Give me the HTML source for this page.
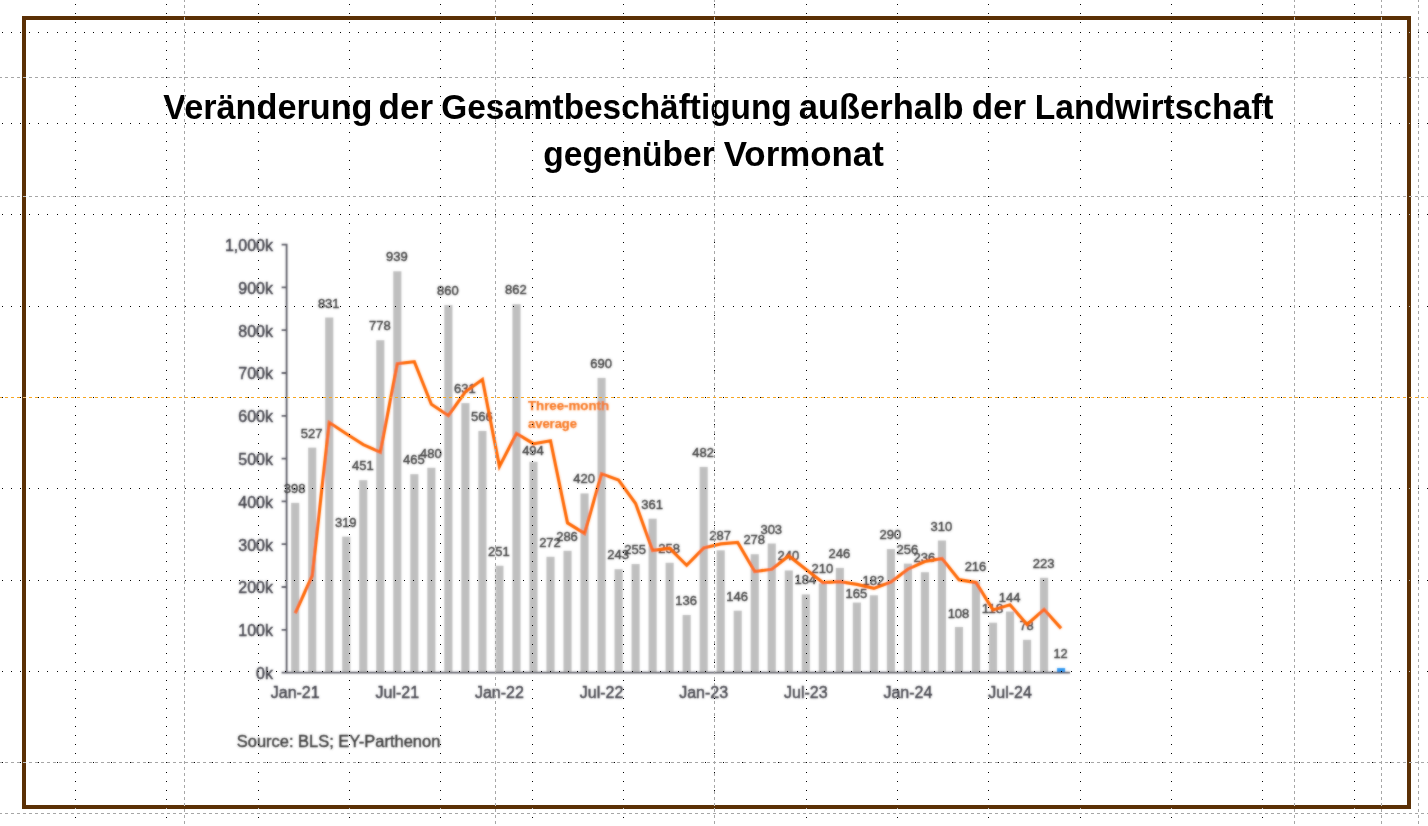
<!DOCTYPE html>
<html lang="de">
<head>
<meta charset="utf-8">
<title>Veränderung der Gesamtbeschäftigung außerhalb der Landwirtschaft gegenüber Vormonat</title>
<style>
html,body{margin:0;padding:0;background:#fff;}
body{width:1428px;height:826px;overflow:hidden;position:relative;font-family:"Liberation Sans",sans-serif;}
svg{position:absolute;left:0;top:0;display:block;}
.title{font-family:"Liberation Sans",sans-serif;font-weight:bold;font-size:35.3px;fill:#000;}
.ax{font-family:"Liberation Sans",sans-serif;font-size:16px;fill:#404048;stroke:#404048;stroke-width:0.45px;}
.dl{font-family:"Liberation Sans",sans-serif;font-size:13.5px;fill:#3c3c3c;stroke:#3c3c3c;stroke-width:0.45px;text-anchor:middle;}
.src{font-family:"Liberation Sans",sans-serif;font-size:16.5px;fill:#363636;stroke:#363636;stroke-width:0.4px;}
.tm{font-family:"Liberation Sans",sans-serif;font-weight:bold;font-size:13px;fill:#f8741c;stroke:#f8741c;stroke-width:0.25px;}
</style>
</head>
<body>
<svg width="1428" height="826" viewBox="0 0 1428 826">
<defs>
<filter id="soft" x="-2%" y="-2%" width="104%" height="104%"><feGaussianBlur stdDeviation="0.85" result="b"/><feComposite in="SourceGraphic" in2="b" operator="arithmetic" k1="0" k2="0.4" k3="0.6" k4="0"/></filter>
</defs>
<rect width="1428" height="826" fill="#fff"/>
<!-- slide frame -->
<rect x="24" y="18" width="1385" height="789" fill="none" stroke="#5b3005" stroke-width="4"/>
<!-- chart picture -->
<g filter="url(#soft)">
<g><rect x="291.15" y="502.86" width="8.1" height="169.74" fill="#bfbfbf"/><rect x="308.17" y="447.64" width="8.1" height="224.96" fill="#bfbfbf"/><rect x="325.19" y="317.53" width="8.1" height="355.07" fill="#bfbfbf"/><rect x="342.21" y="536.67" width="8.1" height="135.93" fill="#bfbfbf"/><rect x="359.23" y="480.17" width="8.1" height="192.43" fill="#bfbfbf"/><rect x="376.25" y="340.22" width="8.1" height="332.38" fill="#bfbfbf"/><rect x="393.27" y="271.31" width="8.1" height="401.29" fill="#bfbfbf"/><rect x="410.29" y="474.18" width="8.1" height="198.42" fill="#bfbfbf"/><rect x="427.31" y="467.76" width="8.1" height="204.84" fill="#bfbfbf"/><rect x="444.33" y="305.12" width="8.1" height="367.48" fill="#bfbfbf"/><rect x="461.35" y="403.13" width="8.1" height="269.47" fill="#bfbfbf"/><rect x="478.37" y="430.95" width="8.1" height="241.65" fill="#bfbfbf"/><rect x="495.39" y="565.77" width="8.1" height="106.83" fill="#bfbfbf"/><rect x="512.41" y="304.26" width="8.1" height="368.34" fill="#bfbfbf"/><rect x="529.43" y="461.77" width="8.1" height="210.83" fill="#bfbfbf"/><rect x="546.45" y="556.78" width="8.1" height="115.82" fill="#bfbfbf"/><rect x="563.47" y="550.79" width="8.1" height="121.81" fill="#bfbfbf"/><rect x="580.49" y="493.44" width="8.1" height="179.16" fill="#bfbfbf"/><rect x="597.51" y="377.88" width="8.1" height="294.72" fill="#bfbfbf"/><rect x="614.53" y="569.20" width="8.1" height="103.40" fill="#bfbfbf"/><rect x="631.55" y="564.06" width="8.1" height="108.54" fill="#bfbfbf"/><rect x="648.57" y="518.69" width="8.1" height="153.91" fill="#bfbfbf"/><rect x="665.59" y="562.78" width="8.1" height="109.82" fill="#bfbfbf"/><rect x="682.61" y="614.99" width="8.1" height="57.61" fill="#bfbfbf"/><rect x="699.63" y="466.90" width="8.1" height="205.70" fill="#bfbfbf"/><rect x="716.65" y="550.36" width="8.1" height="122.24" fill="#bfbfbf"/><rect x="733.67" y="610.71" width="8.1" height="61.89" fill="#bfbfbf"/><rect x="750.69" y="554.22" width="8.1" height="118.38" fill="#bfbfbf"/><rect x="767.71" y="543.52" width="8.1" height="129.08" fill="#bfbfbf"/><rect x="784.73" y="570.48" width="8.1" height="102.12" fill="#bfbfbf"/><rect x="801.75" y="594.45" width="8.1" height="78.15" fill="#bfbfbf"/><rect x="818.77" y="583.32" width="8.1" height="89.28" fill="#bfbfbf"/><rect x="835.79" y="567.91" width="8.1" height="104.69" fill="#bfbfbf"/><rect x="852.81" y="602.58" width="8.1" height="70.02" fill="#bfbfbf"/><rect x="869.83" y="595.30" width="8.1" height="77.30" fill="#bfbfbf"/><rect x="886.85" y="549.08" width="8.1" height="123.52" fill="#bfbfbf"/><rect x="903.87" y="563.63" width="8.1" height="108.97" fill="#bfbfbf"/><rect x="920.89" y="572.19" width="8.1" height="100.41" fill="#bfbfbf"/><rect x="937.91" y="540.52" width="8.1" height="132.08" fill="#bfbfbf"/><rect x="954.93" y="626.98" width="8.1" height="45.62" fill="#bfbfbf"/><rect x="971.95" y="580.75" width="8.1" height="91.85" fill="#bfbfbf"/><rect x="988.97" y="622.70" width="8.1" height="49.90" fill="#bfbfbf"/><rect x="1005.99" y="611.57" width="8.1" height="61.03" fill="#bfbfbf"/><rect x="1023.01" y="639.82" width="8.1" height="32.78" fill="#bfbfbf"/><rect x="1040.03" y="577.76" width="8.1" height="94.84" fill="#bfbfbf"/><rect x="1057.05" y="668.06" width="8.1" height="4.54" fill="#2f96f0"/></g>
<path d="M286.6 243.8V673.5M281.6 672.6H1070M281.6 672.60H286.6M281.6 629.80H286.6M281.6 587.00H286.6M281.6 544.20H286.6M281.6 501.40H286.6M281.6 458.60H286.6M281.6 415.80H286.6M281.6 373.00H286.6M281.6 330.20H286.6M281.6 287.40H286.6M281.6 244.60H286.6" fill="none" stroke="#5a5a64" stroke-width="1.8"/>
<g class="ax" text-anchor="end"><text x="273" y="679.00">0k</text><text x="273" y="636.20">100k</text><text x="273" y="593.40">200k</text><text x="273" y="550.60">300k</text><text x="273" y="507.80">400k</text><text x="273" y="465.00">500k</text><text x="273" y="422.20">600k</text><text x="273" y="379.40">700k</text><text x="273" y="336.60">800k</text><text x="273" y="293.80">900k</text><text x="273" y="251.00">1,000k</text></g>
<g class="ax" text-anchor="middle"><text x="295.20" y="698.1">Jan-21</text><text x="397.32" y="698.1">Jul-21</text><text x="499.44" y="698.1">Jan-22</text><text x="601.56" y="698.1">Jul-22</text><text x="703.68" y="698.1">Jan-23</text><text x="805.80" y="698.1">Jul-23</text><text x="907.92" y="698.1">Jan-24</text><text x="1010.04" y="698.1">Jul-24</text></g>
<g class="dl"><text x="294.70" y="492.86" textLength="21.7" lengthAdjust="spacingAndGlyphs">398</text><text x="311.72" y="437.64" textLength="21.7" lengthAdjust="spacingAndGlyphs">527</text><text x="328.74" y="307.53" textLength="21.7" lengthAdjust="spacingAndGlyphs">831</text><text x="345.76" y="526.67" textLength="21.7" lengthAdjust="spacingAndGlyphs">319</text><text x="362.78" y="470.17" textLength="21.7" lengthAdjust="spacingAndGlyphs">451</text><text x="379.80" y="330.22" textLength="21.7" lengthAdjust="spacingAndGlyphs">778</text><text x="396.82" y="261.31" textLength="21.7" lengthAdjust="spacingAndGlyphs">939</text><text x="413.84" y="464.18" textLength="21.7" lengthAdjust="spacingAndGlyphs">465</text><text x="430.86" y="457.76" textLength="21.7" lengthAdjust="spacingAndGlyphs">480</text><text x="447.88" y="295.12" textLength="21.7" lengthAdjust="spacingAndGlyphs">860</text><text x="464.90" y="393.13" textLength="21.7" lengthAdjust="spacingAndGlyphs">631</text><text x="481.92" y="420.95" textLength="21.7" lengthAdjust="spacingAndGlyphs">566</text><text x="498.94" y="555.77" textLength="21.7" lengthAdjust="spacingAndGlyphs">251</text><text x="515.96" y="294.26" textLength="21.7" lengthAdjust="spacingAndGlyphs">862</text><text x="532.98" y="455.27" textLength="21.7" lengthAdjust="spacingAndGlyphs">494</text><text x="550.00" y="546.78" textLength="21.7" lengthAdjust="spacingAndGlyphs">272</text><text x="567.02" y="540.79" textLength="21.7" lengthAdjust="spacingAndGlyphs">286</text><text x="584.04" y="483.44" textLength="21.7" lengthAdjust="spacingAndGlyphs">420</text><text x="601.06" y="367.88" textLength="21.7" lengthAdjust="spacingAndGlyphs">690</text><text x="618.08" y="559.20" textLength="21.7" lengthAdjust="spacingAndGlyphs">243</text><text x="635.10" y="554.06" textLength="21.7" lengthAdjust="spacingAndGlyphs">255</text><text x="652.12" y="508.69" textLength="21.7" lengthAdjust="spacingAndGlyphs">361</text><text x="669.14" y="552.78" textLength="21.7" lengthAdjust="spacingAndGlyphs">258</text><text x="686.16" y="604.99" textLength="21.7" lengthAdjust="spacingAndGlyphs">136</text><text x="703.18" y="456.90" textLength="21.7" lengthAdjust="spacingAndGlyphs">482</text><text x="720.20" y="540.36" textLength="21.7" lengthAdjust="spacingAndGlyphs">287</text><text x="737.22" y="600.71" textLength="21.7" lengthAdjust="spacingAndGlyphs">146</text><text x="754.24" y="544.22" textLength="21.7" lengthAdjust="spacingAndGlyphs">278</text><text x="771.26" y="533.52" textLength="21.7" lengthAdjust="spacingAndGlyphs">303</text><text x="788.28" y="560.48" textLength="21.7" lengthAdjust="spacingAndGlyphs">240</text><text x="805.30" y="584.45" textLength="21.7" lengthAdjust="spacingAndGlyphs">184</text><text x="822.32" y="573.32" textLength="21.7" lengthAdjust="spacingAndGlyphs">210</text><text x="839.34" y="557.91" textLength="21.7" lengthAdjust="spacingAndGlyphs">246</text><text x="856.36" y="598.08" textLength="21.7" lengthAdjust="spacingAndGlyphs">165</text><text x="873.38" y="585.30" textLength="21.7" lengthAdjust="spacingAndGlyphs">182</text><text x="890.40" y="539.08" textLength="21.7" lengthAdjust="spacingAndGlyphs">290</text><text x="907.42" y="553.63" textLength="21.7" lengthAdjust="spacingAndGlyphs">256</text><text x="924.44" y="562.19" textLength="21.7" lengthAdjust="spacingAndGlyphs">236</text><text x="941.46" y="530.52" textLength="21.7" lengthAdjust="spacingAndGlyphs">310</text><text x="958.48" y="618.08" textLength="21.7" lengthAdjust="spacingAndGlyphs">108</text><text x="975.50" y="570.75" textLength="21.7" lengthAdjust="spacingAndGlyphs">216</text><text x="992.52" y="612.70" textLength="21.7" lengthAdjust="spacingAndGlyphs">118</text><text x="1009.54" y="601.57" textLength="21.7" lengthAdjust="spacingAndGlyphs">144</text><text x="1026.56" y="629.82" textLength="14.3" lengthAdjust="spacingAndGlyphs">78</text><text x="1043.58" y="567.76" textLength="21.7" lengthAdjust="spacingAndGlyphs">223</text><text x="1060.60" y="658.06" textLength="14.3" lengthAdjust="spacingAndGlyphs">12</text></g>
<polyline points="295.20,613.22 312.22,575.70 329.24,422.48 346.26,433.75 363.28,444.59 380.30,452.15 397.32,363.70 414.34,361.70 431.36,404.22 448.38,415.49 465.40,391.80 482.42,379.53 499.44,466.42 516.46,433.46 533.48,443.73 550.50,440.74 567.52,522.91 584.54,533.47 601.56,473.84 618.58,479.97 635.60,503.51 652.62,550.45 669.64,548.31 686.66,565.29 703.68,548.02 720.70,543.89 737.72,542.46 754.74,571.56 771.76,569.28 788.78,555.87 805.80,569.28 822.82,582.55 839.84,581.69 856.86,584.40 873.88,588.40 890.90,582.12 907.92,569.14 924.94,561.43 941.96,558.58 958.98,579.70 976.00,582.55 993.02,609.94 1010.04,604.81 1027.06,624.49 1044.08,609.51 1061.10,628.35" fill="none" stroke="#ff6600" stroke-width="3.2" stroke-linejoin="miter" stroke-linecap="butt"/>
<text class="tm" x="528" y="409.8" textLength="81" lengthAdjust="spacingAndGlyphs">Three-month</text>
<text class="tm" x="528" y="428.2" textLength="49" lengthAdjust="spacingAndGlyphs">average</text>
<text class="src" x="236.8" y="746.7" textLength="203.5" lengthAdjust="spacingAndGlyphs">Source: BLS; EY-Parthenon</text>
</g>
<!-- title -->
<text class="title" y="118.9"><tspan x="163.26" textLength="209.28" lengthAdjust="spacingAndGlyphs">Veränderung</tspan> <tspan x="378.51" textLength="54.52" lengthAdjust="spacingAndGlyphs">der</tspan> <tspan x="441.28" textLength="350.42" lengthAdjust="spacingAndGlyphs">Gesamtbeschäftigung</tspan> <tspan x="798.72" textLength="164.88" lengthAdjust="spacingAndGlyphs">außerhalb</tspan> <tspan x="971.71" textLength="54.52" lengthAdjust="spacingAndGlyphs">der</tspan> <tspan x="1034.76" textLength="238.8" lengthAdjust="spacingAndGlyphs">Landwirtschaft</tspan></text>
<text class="title" y="165.9"><tspan x="543.37" textLength="171.44" lengthAdjust="spacingAndGlyphs">gegenüber</tspan> <tspan x="723.65" textLength="160.22" lengthAdjust="spacingAndGlyphs">Vormonat</tspan></text>
<!-- grid dots -->
<path d="M2 32.5h1m8 0h1m8 0h1m8 0h1m8 0h1m8 0h1m9 0h1m8 0h1m8 0h1m8 0h1m8 0h1m8 0h1m8 0h1m9 0h1m8 0h1m8 0h1m8 0h1m8 0h1m8 0h1m8 0h1m9 0h1m8 0h1m8 0h1m8 0h1m8 0h1m8 0h1m8 0h1m8 0h1m9 0h1m8 0h1m8 0h1m8 0h1m8 0h1m8 0h1m8 0h1m9 0h1m8 0h1m8 0h1m8 0h1m8 0h1m8 0h1m8 0h1m8 0h1m9 0h1m8 0h1m8 0h1m8 0h1m8 0h1m8 0h1m8 0h1m9 0h1m8 0h1m8 0h1m8 0h1m8 0h1m8 0h1m8 0h1m9 0h1m8 0h1m8 0h1m8 0h1m8 0h1m8 0h1m8 0h1m8 0h1m9 0h1m8 0h1m8 0h1m8 0h1m8 0h1m8 0h1m8 0h1m9 0h1m8 0h1m8 0h1m8 0h1m8 0h1m8 0h1m8 0h1m8 0h1m9 0h1m8 0h1m8 0h1m8 0h1m8 0h1m8 0h1m8 0h1m9 0h1m8 0h1m8 0h1m8 0h1m8 0h1m8 0h1m8 0h1m9 0h1m8 0h1m8 0h1m8 0h1m8 0h1m8 0h1m8 0h1m8 0h1m9 0h1m8 0h1m8 0h1m8 0h1m8 0h1m8 0h1m8 0h1m9 0h1m8 0h1m8 0h1m8 0h1m8 0h1m8 0h1m8 0h1m8 0h1m9 0h1m8 0h1m8 0h1m8 0h1m8 0h1m8 0h1m8 0h1m9 0h1m8 0h1m8 0h1m8 0h1m8 0h1m8 0h1m8 0h1m8 0h1m9 0h1m8 0h1m8 0h1m8 0h1m8 0h1m8 0h1m8 0h1m9 0h1m8 0h1m8 0h1m8 0h1m8 0h1m8 0h1m8 0h1m9 0h1m8 0h1m8 0h1m8 0h1m8 0h1m8 0h1m8 0h1m8 0h1m9 0h1m8 0h1m8 0h1M2 123.5h1m8 0h1m8 0h1m8 0h1m8 0h1m8 0h1m9 0h1m8 0h1m8 0h1m8 0h1m8 0h1m8 0h1m8 0h1m9 0h1m8 0h1m8 0h1m8 0h1m8 0h1m8 0h1m8 0h1m9 0h1m8 0h1m8 0h1m8 0h1m8 0h1m8 0h1m8 0h1m8 0h1m9 0h1m8 0h1m8 0h1m8 0h1m8 0h1m8 0h1m8 0h1m9 0h1m8 0h1m8 0h1m8 0h1m8 0h1m8 0h1m8 0h1m8 0h1m9 0h1m8 0h1m8 0h1m8 0h1m8 0h1m8 0h1m8 0h1m9 0h1m8 0h1m8 0h1m8 0h1m8 0h1m8 0h1m8 0h1m9 0h1m8 0h1m8 0h1m8 0h1m8 0h1m8 0h1m8 0h1m8 0h1m9 0h1m8 0h1m8 0h1m8 0h1m8 0h1m8 0h1m8 0h1m9 0h1m8 0h1m8 0h1m8 0h1m8 0h1m8 0h1m8 0h1m8 0h1m9 0h1m8 0h1m8 0h1m8 0h1m8 0h1m8 0h1m8 0h1m9 0h1m8 0h1m8 0h1m8 0h1m8 0h1m8 0h1m8 0h1m9 0h1m8 0h1m8 0h1m8 0h1m8 0h1m8 0h1m8 0h1m8 0h1m9 0h1m8 0h1m8 0h1m8 0h1m8 0h1m8 0h1m8 0h1m9 0h1m8 0h1m8 0h1m8 0h1m8 0h1m8 0h1m8 0h1m8 0h1m9 0h1m8 0h1m8 0h1m8 0h1m8 0h1m8 0h1m8 0h1m9 0h1m8 0h1m8 0h1m8 0h1m8 0h1m8 0h1m8 0h1m8 0h1m9 0h1m8 0h1m8 0h1m8 0h1m8 0h1m8 0h1m8 0h1m9 0h1m8 0h1m8 0h1m8 0h1m8 0h1m8 0h1m8 0h1m9 0h1m8 0h1m8 0h1m8 0h1m8 0h1m8 0h1m8 0h1m8 0h1m9 0h1m8 0h1m8 0h1M2 214.5h1m8 0h1m8 0h1m8 0h1m8 0h1m8 0h1m9 0h1m8 0h1m8 0h1m8 0h1m8 0h1m8 0h1m8 0h1m9 0h1m8 0h1m8 0h1m8 0h1m8 0h1m8 0h1m8 0h1m9 0h1m8 0h1m8 0h1m8 0h1m8 0h1m8 0h1m8 0h1m8 0h1m9 0h1m8 0h1m8 0h1m8 0h1m8 0h1m8 0h1m8 0h1m9 0h1m8 0h1m8 0h1m8 0h1m8 0h1m8 0h1m8 0h1m8 0h1m9 0h1m8 0h1m8 0h1m8 0h1m8 0h1m8 0h1m8 0h1m9 0h1m8 0h1m8 0h1m8 0h1m8 0h1m8 0h1m8 0h1m9 0h1m8 0h1m8 0h1m8 0h1m8 0h1m8 0h1m8 0h1m8 0h1m9 0h1m8 0h1m8 0h1m8 0h1m8 0h1m8 0h1m8 0h1m9 0h1m8 0h1m8 0h1m8 0h1m8 0h1m8 0h1m8 0h1m8 0h1m9 0h1m8 0h1m8 0h1m8 0h1m8 0h1m8 0h1m8 0h1m9 0h1m8 0h1m8 0h1m8 0h1m8 0h1m8 0h1m8 0h1m9 0h1m8 0h1m8 0h1m8 0h1m8 0h1m8 0h1m8 0h1m8 0h1m9 0h1m8 0h1m8 0h1m8 0h1m8 0h1m8 0h1m8 0h1m9 0h1m8 0h1m8 0h1m8 0h1m8 0h1m8 0h1m8 0h1m8 0h1m9 0h1m8 0h1m8 0h1m8 0h1m8 0h1m8 0h1m8 0h1m9 0h1m8 0h1m8 0h1m8 0h1m8 0h1m8 0h1m8 0h1m8 0h1m9 0h1m8 0h1m8 0h1m8 0h1m8 0h1m8 0h1m8 0h1m9 0h1m8 0h1m8 0h1m8 0h1m8 0h1m8 0h1m8 0h1m9 0h1m8 0h1m8 0h1m8 0h1m8 0h1m8 0h1m8 0h1m8 0h1m9 0h1m8 0h1m8 0h1M2 306.5h1m8 0h1m8 0h1m8 0h1m8 0h1m8 0h1m9 0h1m8 0h1m8 0h1m8 0h1m8 0h1m8 0h1m8 0h1m9 0h1m8 0h1m8 0h1m8 0h1m8 0h1m8 0h1m8 0h1m9 0h1m8 0h1m8 0h1m8 0h1m8 0h1m8 0h1m8 0h1m8 0h1m9 0h1m8 0h1m8 0h1m8 0h1m8 0h1m8 0h1m8 0h1m9 0h1m8 0h1m8 0h1m8 0h1m8 0h1m8 0h1m8 0h1m8 0h1m9 0h1m8 0h1m8 0h1m8 0h1m8 0h1m8 0h1m8 0h1m9 0h1m8 0h1m8 0h1m8 0h1m8 0h1m8 0h1m8 0h1m9 0h1m8 0h1m8 0h1m8 0h1m8 0h1m8 0h1m8 0h1m8 0h1m9 0h1m8 0h1m8 0h1m8 0h1m8 0h1m8 0h1m8 0h1m9 0h1m8 0h1m8 0h1m8 0h1m8 0h1m8 0h1m8 0h1m8 0h1m9 0h1m8 0h1m8 0h1m8 0h1m8 0h1m8 0h1m8 0h1m9 0h1m8 0h1m8 0h1m8 0h1m8 0h1m8 0h1m8 0h1m9 0h1m8 0h1m8 0h1m8 0h1m8 0h1m8 0h1m8 0h1m8 0h1m9 0h1m8 0h1m8 0h1m8 0h1m8 0h1m8 0h1m8 0h1m9 0h1m8 0h1m8 0h1m8 0h1m8 0h1m8 0h1m8 0h1m8 0h1m9 0h1m8 0h1m8 0h1m8 0h1m8 0h1m8 0h1m8 0h1m9 0h1m8 0h1m8 0h1m8 0h1m8 0h1m8 0h1m8 0h1m8 0h1m9 0h1m8 0h1m8 0h1m8 0h1m8 0h1m8 0h1m8 0h1m9 0h1m8 0h1m8 0h1m8 0h1m8 0h1m8 0h1m8 0h1m9 0h1m8 0h1m8 0h1m8 0h1m8 0h1m8 0h1m8 0h1m8 0h1m9 0h1m8 0h1m8 0h1M2 397.5h1m8 0h1m8 0h1m8 0h1m8 0h1m8 0h1m9 0h1m8 0h1m8 0h1m8 0h1m8 0h1m8 0h1m8 0h1m9 0h1m8 0h1m8 0h1m8 0h1m8 0h1m8 0h1m8 0h1m9 0h1m8 0h1m8 0h1m8 0h1m8 0h1m8 0h1m8 0h1m8 0h1m9 0h1m8 0h1m8 0h1m8 0h1m8 0h1m8 0h1m8 0h1m9 0h1m8 0h1m8 0h1m8 0h1m8 0h1m8 0h1m8 0h1m8 0h1m9 0h1m8 0h1m8 0h1m8 0h1m8 0h1m8 0h1m8 0h1m9 0h1m8 0h1m8 0h1m8 0h1m8 0h1m8 0h1m8 0h1m9 0h1m8 0h1m8 0h1m8 0h1m8 0h1m8 0h1m8 0h1m8 0h1m9 0h1m8 0h1m8 0h1m8 0h1m8 0h1m8 0h1m8 0h1m9 0h1m8 0h1m8 0h1m8 0h1m8 0h1m8 0h1m8 0h1m8 0h1m9 0h1m8 0h1m8 0h1m8 0h1m8 0h1m8 0h1m8 0h1m9 0h1m8 0h1m8 0h1m8 0h1m8 0h1m8 0h1m8 0h1m9 0h1m8 0h1m8 0h1m8 0h1m8 0h1m8 0h1m8 0h1m8 0h1m9 0h1m8 0h1m8 0h1m8 0h1m8 0h1m8 0h1m8 0h1m9 0h1m8 0h1m8 0h1m8 0h1m8 0h1m8 0h1m8 0h1m8 0h1m9 0h1m8 0h1m8 0h1m8 0h1m8 0h1m8 0h1m8 0h1m9 0h1m8 0h1m8 0h1m8 0h1m8 0h1m8 0h1m8 0h1m8 0h1m9 0h1m8 0h1m8 0h1m8 0h1m8 0h1m8 0h1m8 0h1m9 0h1m8 0h1m8 0h1m8 0h1m8 0h1m8 0h1m8 0h1m9 0h1m8 0h1m8 0h1m8 0h1m8 0h1m8 0h1m8 0h1m8 0h1m9 0h1m8 0h1m8 0h1M2 488.5h1m8 0h1m8 0h1m8 0h1m8 0h1m8 0h1m9 0h1m8 0h1m8 0h1m8 0h1m8 0h1m8 0h1m8 0h1m9 0h1m8 0h1m8 0h1m8 0h1m8 0h1m8 0h1m8 0h1m9 0h1m8 0h1m8 0h1m8 0h1m8 0h1m8 0h1m8 0h1m8 0h1m9 0h1m8 0h1m8 0h1m8 0h1m8 0h1m8 0h1m8 0h1m9 0h1m8 0h1m8 0h1m8 0h1m8 0h1m8 0h1m8 0h1m8 0h1m9 0h1m8 0h1m8 0h1m8 0h1m8 0h1m8 0h1m8 0h1m9 0h1m8 0h1m8 0h1m8 0h1m8 0h1m8 0h1m8 0h1m9 0h1m8 0h1m8 0h1m8 0h1m8 0h1m8 0h1m8 0h1m8 0h1m9 0h1m8 0h1m8 0h1m8 0h1m8 0h1m8 0h1m8 0h1m9 0h1m8 0h1m8 0h1m8 0h1m8 0h1m8 0h1m8 0h1m8 0h1m9 0h1m8 0h1m8 0h1m8 0h1m8 0h1m8 0h1m8 0h1m9 0h1m8 0h1m8 0h1m8 0h1m8 0h1m8 0h1m8 0h1m9 0h1m8 0h1m8 0h1m8 0h1m8 0h1m8 0h1m8 0h1m8 0h1m9 0h1m8 0h1m8 0h1m8 0h1m8 0h1m8 0h1m8 0h1m9 0h1m8 0h1m8 0h1m8 0h1m8 0h1m8 0h1m8 0h1m8 0h1m9 0h1m8 0h1m8 0h1m8 0h1m8 0h1m8 0h1m8 0h1m9 0h1m8 0h1m8 0h1m8 0h1m8 0h1m8 0h1m8 0h1m8 0h1m9 0h1m8 0h1m8 0h1m8 0h1m8 0h1m8 0h1m8 0h1m9 0h1m8 0h1m8 0h1m8 0h1m8 0h1m8 0h1m8 0h1m9 0h1m8 0h1m8 0h1m8 0h1m8 0h1m8 0h1m8 0h1m8 0h1m9 0h1m8 0h1m8 0h1M2 580.5h1m8 0h1m8 0h1m8 0h1m8 0h1m8 0h1m9 0h1m8 0h1m8 0h1m8 0h1m8 0h1m8 0h1m8 0h1m9 0h1m8 0h1m8 0h1m8 0h1m8 0h1m8 0h1m8 0h1m9 0h1m8 0h1m8 0h1m8 0h1m8 0h1m8 0h1m8 0h1m8 0h1m9 0h1m8 0h1m8 0h1m8 0h1m8 0h1m8 0h1m8 0h1m9 0h1m8 0h1m8 0h1m8 0h1m8 0h1m8 0h1m8 0h1m8 0h1m9 0h1m8 0h1m8 0h1m8 0h1m8 0h1m8 0h1m8 0h1m9 0h1m8 0h1m8 0h1m8 0h1m8 0h1m8 0h1m8 0h1m9 0h1m8 0h1m8 0h1m8 0h1m8 0h1m8 0h1m8 0h1m8 0h1m9 0h1m8 0h1m8 0h1m8 0h1m8 0h1m8 0h1m8 0h1m9 0h1m8 0h1m8 0h1m8 0h1m8 0h1m8 0h1m8 0h1m8 0h1m9 0h1m8 0h1m8 0h1m8 0h1m8 0h1m8 0h1m8 0h1m9 0h1m8 0h1m8 0h1m8 0h1m8 0h1m8 0h1m8 0h1m9 0h1m8 0h1m8 0h1m8 0h1m8 0h1m8 0h1m8 0h1m8 0h1m9 0h1m8 0h1m8 0h1m8 0h1m8 0h1m8 0h1m8 0h1m9 0h1m8 0h1m8 0h1m8 0h1m8 0h1m8 0h1m8 0h1m8 0h1m9 0h1m8 0h1m8 0h1m8 0h1m8 0h1m8 0h1m8 0h1m9 0h1m8 0h1m8 0h1m8 0h1m8 0h1m8 0h1m8 0h1m8 0h1m9 0h1m8 0h1m8 0h1m8 0h1m8 0h1m8 0h1m8 0h1m9 0h1m8 0h1m8 0h1m8 0h1m8 0h1m8 0h1m8 0h1m9 0h1m8 0h1m8 0h1m8 0h1m8 0h1m8 0h1m8 0h1m8 0h1m9 0h1m8 0h1m8 0h1M2 671.5h1m8 0h1m8 0h1m8 0h1m8 0h1m8 0h1m9 0h1m8 0h1m8 0h1m8 0h1m8 0h1m8 0h1m8 0h1m9 0h1m8 0h1m8 0h1m8 0h1m8 0h1m8 0h1m8 0h1m9 0h1m8 0h1m8 0h1m8 0h1m8 0h1m8 0h1m8 0h1m8 0h1m9 0h1m8 0h1m8 0h1m8 0h1m8 0h1m8 0h1m8 0h1m9 0h1m8 0h1m8 0h1m8 0h1m8 0h1m8 0h1m8 0h1m8 0h1m9 0h1m8 0h1m8 0h1m8 0h1m8 0h1m8 0h1m8 0h1m9 0h1m8 0h1m8 0h1m8 0h1m8 0h1m8 0h1m8 0h1m9 0h1m8 0h1m8 0h1m8 0h1m8 0h1m8 0h1m8 0h1m8 0h1m9 0h1m8 0h1m8 0h1m8 0h1m8 0h1m8 0h1m8 0h1m9 0h1m8 0h1m8 0h1m8 0h1m8 0h1m8 0h1m8 0h1m8 0h1m9 0h1m8 0h1m8 0h1m8 0h1m8 0h1m8 0h1m8 0h1m9 0h1m8 0h1m8 0h1m8 0h1m8 0h1m8 0h1m8 0h1m9 0h1m8 0h1m8 0h1m8 0h1m8 0h1m8 0h1m8 0h1m8 0h1m9 0h1m8 0h1m8 0h1m8 0h1m8 0h1m8 0h1m8 0h1m9 0h1m8 0h1m8 0h1m8 0h1m8 0h1m8 0h1m8 0h1m8 0h1m9 0h1m8 0h1m8 0h1m8 0h1m8 0h1m8 0h1m8 0h1m9 0h1m8 0h1m8 0h1m8 0h1m8 0h1m8 0h1m8 0h1m8 0h1m9 0h1m8 0h1m8 0h1m8 0h1m8 0h1m8 0h1m8 0h1m9 0h1m8 0h1m8 0h1m8 0h1m8 0h1m8 0h1m8 0h1m9 0h1m8 0h1m8 0h1m8 0h1m8 0h1m8 0h1m8 0h1m8 0h1m9 0h1m8 0h1m8 0h1M2 762.5h1m8 0h1m8 0h1m8 0h1m8 0h1m8 0h1m9 0h1m8 0h1m8 0h1m8 0h1m8 0h1m8 0h1m8 0h1m9 0h1m8 0h1m8 0h1m8 0h1m8 0h1m8 0h1m8 0h1m9 0h1m8 0h1m8 0h1m8 0h1m8 0h1m8 0h1m8 0h1m8 0h1m9 0h1m8 0h1m8 0h1m8 0h1m8 0h1m8 0h1m8 0h1m9 0h1m8 0h1m8 0h1m8 0h1m8 0h1m8 0h1m8 0h1m8 0h1m9 0h1m8 0h1m8 0h1m8 0h1m8 0h1m8 0h1m8 0h1m9 0h1m8 0h1m8 0h1m8 0h1m8 0h1m8 0h1m8 0h1m9 0h1m8 0h1m8 0h1m8 0h1m8 0h1m8 0h1m8 0h1m8 0h1m9 0h1m8 0h1m8 0h1m8 0h1m8 0h1m8 0h1m8 0h1m9 0h1m8 0h1m8 0h1m8 0h1m8 0h1m8 0h1m8 0h1m8 0h1m9 0h1m8 0h1m8 0h1m8 0h1m8 0h1m8 0h1m8 0h1m9 0h1m8 0h1m8 0h1m8 0h1m8 0h1m8 0h1m8 0h1m9 0h1m8 0h1m8 0h1m8 0h1m8 0h1m8 0h1m8 0h1m8 0h1m9 0h1m8 0h1m8 0h1m8 0h1m8 0h1m8 0h1m8 0h1m9 0h1m8 0h1m8 0h1m8 0h1m8 0h1m8 0h1m8 0h1m8 0h1m9 0h1m8 0h1m8 0h1m8 0h1m8 0h1m8 0h1m8 0h1m9 0h1m8 0h1m8 0h1m8 0h1m8 0h1m8 0h1m8 0h1m8 0h1m9 0h1m8 0h1m8 0h1m8 0h1m8 0h1m8 0h1m8 0h1m9 0h1m8 0h1m8 0h1m8 0h1m8 0h1m8 0h1m8 0h1m9 0h1m8 0h1m8 0h1m8 0h1m8 0h1m8 0h1m8 0h1m8 0h1m9 0h1m8 0h1m8 0h1M75.5 4v1m0 8v1m0 8v1m0 9v1m0 8v1m0 8v1m0 8v1m0 8v1m0 8v1m0 8v1m0 9v1m0 8v1m0 8v1m0 8v1m0 8v1m0 8v1m0 8v1m0 9v1m0 8v1m0 8v1m0 8v1m0 8v1m0 8v1m0 8v1m0 8v1m0 9v1m0 8v1m0 8v1m0 8v1m0 8v1m0 8v1m0 8v1m0 9v1m0 8v1m0 8v1m0 8v1m0 8v1m0 8v1m0 8v1m0 8v1m0 9v1m0 8v1m0 8v1m0 8v1m0 8v1m0 8v1m0 8v1m0 9v1m0 8v1m0 8v1m0 8v1m0 8v1m0 8v1m0 8v1m0 9v1m0 8v1m0 8v1m0 8v1m0 8v1m0 8v1m0 8v1m0 8v1m0 9v1m0 8v1m0 8v1m0 8v1m0 8v1m0 8v1m0 8v1m0 9v1m0 8v1m0 8v1m0 8v1m0 8v1m0 8v1m0 8v1m0 8v1m0 9v1m0 8v1m0 8v1m0 8v1m0 8v1m0 8v1m0 8v1m0 9v1m0 8v1m0 8v1m0 8v1m0 8v1m0 8v1M166.5 4v1m0 8v1m0 8v1m0 9v1m0 8v1m0 8v1m0 8v1m0 8v1m0 8v1m0 8v1m0 9v1m0 8v1m0 8v1m0 8v1m0 8v1m0 8v1m0 8v1m0 9v1m0 8v1m0 8v1m0 8v1m0 8v1m0 8v1m0 8v1m0 8v1m0 9v1m0 8v1m0 8v1m0 8v1m0 8v1m0 8v1m0 8v1m0 9v1m0 8v1m0 8v1m0 8v1m0 8v1m0 8v1m0 8v1m0 8v1m0 9v1m0 8v1m0 8v1m0 8v1m0 8v1m0 8v1m0 8v1m0 9v1m0 8v1m0 8v1m0 8v1m0 8v1m0 8v1m0 8v1m0 9v1m0 8v1m0 8v1m0 8v1m0 8v1m0 8v1m0 8v1m0 8v1m0 9v1m0 8v1m0 8v1m0 8v1m0 8v1m0 8v1m0 8v1m0 9v1m0 8v1m0 8v1m0 8v1m0 8v1m0 8v1m0 8v1m0 8v1m0 9v1m0 8v1m0 8v1m0 8v1m0 8v1m0 8v1m0 8v1m0 9v1m0 8v1m0 8v1m0 8v1m0 8v1m0 8v1M258.5 4v1m0 8v1m0 8v1m0 9v1m0 8v1m0 8v1m0 8v1m0 8v1m0 8v1m0 8v1m0 9v1m0 8v1m0 8v1m0 8v1m0 8v1m0 8v1m0 8v1m0 9v1m0 8v1m0 8v1m0 8v1m0 8v1m0 8v1m0 8v1m0 8v1m0 9v1m0 8v1m0 8v1m0 8v1m0 8v1m0 8v1m0 8v1m0 9v1m0 8v1m0 8v1m0 8v1m0 8v1m0 8v1m0 8v1m0 8v1m0 9v1m0 8v1m0 8v1m0 8v1m0 8v1m0 8v1m0 8v1m0 9v1m0 8v1m0 8v1m0 8v1m0 8v1m0 8v1m0 8v1m0 9v1m0 8v1m0 8v1m0 8v1m0 8v1m0 8v1m0 8v1m0 8v1m0 9v1m0 8v1m0 8v1m0 8v1m0 8v1m0 8v1m0 8v1m0 9v1m0 8v1m0 8v1m0 8v1m0 8v1m0 8v1m0 8v1m0 8v1m0 9v1m0 8v1m0 8v1m0 8v1m0 8v1m0 8v1m0 8v1m0 9v1m0 8v1m0 8v1m0 8v1m0 8v1m0 8v1M349.5 4v1m0 8v1m0 8v1m0 9v1m0 8v1m0 8v1m0 8v1m0 8v1m0 8v1m0 8v1m0 9v1m0 8v1m0 8v1m0 8v1m0 8v1m0 8v1m0 8v1m0 9v1m0 8v1m0 8v1m0 8v1m0 8v1m0 8v1m0 8v1m0 8v1m0 9v1m0 8v1m0 8v1m0 8v1m0 8v1m0 8v1m0 8v1m0 9v1m0 8v1m0 8v1m0 8v1m0 8v1m0 8v1m0 8v1m0 8v1m0 9v1m0 8v1m0 8v1m0 8v1m0 8v1m0 8v1m0 8v1m0 9v1m0 8v1m0 8v1m0 8v1m0 8v1m0 8v1m0 8v1m0 9v1m0 8v1m0 8v1m0 8v1m0 8v1m0 8v1m0 8v1m0 8v1m0 9v1m0 8v1m0 8v1m0 8v1m0 8v1m0 8v1m0 8v1m0 9v1m0 8v1m0 8v1m0 8v1m0 8v1m0 8v1m0 8v1m0 8v1m0 9v1m0 8v1m0 8v1m0 8v1m0 8v1m0 8v1m0 8v1m0 9v1m0 8v1m0 8v1m0 8v1m0 8v1m0 8v1M440.5 4v1m0 8v1m0 8v1m0 9v1m0 8v1m0 8v1m0 8v1m0 8v1m0 8v1m0 8v1m0 9v1m0 8v1m0 8v1m0 8v1m0 8v1m0 8v1m0 8v1m0 9v1m0 8v1m0 8v1m0 8v1m0 8v1m0 8v1m0 8v1m0 8v1m0 9v1m0 8v1m0 8v1m0 8v1m0 8v1m0 8v1m0 8v1m0 9v1m0 8v1m0 8v1m0 8v1m0 8v1m0 8v1m0 8v1m0 8v1m0 9v1m0 8v1m0 8v1m0 8v1m0 8v1m0 8v1m0 8v1m0 9v1m0 8v1m0 8v1m0 8v1m0 8v1m0 8v1m0 8v1m0 9v1m0 8v1m0 8v1m0 8v1m0 8v1m0 8v1m0 8v1m0 8v1m0 9v1m0 8v1m0 8v1m0 8v1m0 8v1m0 8v1m0 8v1m0 9v1m0 8v1m0 8v1m0 8v1m0 8v1m0 8v1m0 8v1m0 8v1m0 9v1m0 8v1m0 8v1m0 8v1m0 8v1m0 8v1m0 8v1m0 9v1m0 8v1m0 8v1m0 8v1m0 8v1m0 8v1M532.5 4v1m0 8v1m0 8v1m0 9v1m0 8v1m0 8v1m0 8v1m0 8v1m0 8v1m0 8v1m0 9v1m0 8v1m0 8v1m0 8v1m0 8v1m0 8v1m0 8v1m0 9v1m0 8v1m0 8v1m0 8v1m0 8v1m0 8v1m0 8v1m0 8v1m0 9v1m0 8v1m0 8v1m0 8v1m0 8v1m0 8v1m0 8v1m0 9v1m0 8v1m0 8v1m0 8v1m0 8v1m0 8v1m0 8v1m0 8v1m0 9v1m0 8v1m0 8v1m0 8v1m0 8v1m0 8v1m0 8v1m0 9v1m0 8v1m0 8v1m0 8v1m0 8v1m0 8v1m0 8v1m0 9v1m0 8v1m0 8v1m0 8v1m0 8v1m0 8v1m0 8v1m0 8v1m0 9v1m0 8v1m0 8v1m0 8v1m0 8v1m0 8v1m0 8v1m0 9v1m0 8v1m0 8v1m0 8v1m0 8v1m0 8v1m0 8v1m0 8v1m0 9v1m0 8v1m0 8v1m0 8v1m0 8v1m0 8v1m0 8v1m0 9v1m0 8v1m0 8v1m0 8v1m0 8v1m0 8v1M623.5 4v1m0 8v1m0 8v1m0 9v1m0 8v1m0 8v1m0 8v1m0 8v1m0 8v1m0 8v1m0 9v1m0 8v1m0 8v1m0 8v1m0 8v1m0 8v1m0 8v1m0 9v1m0 8v1m0 8v1m0 8v1m0 8v1m0 8v1m0 8v1m0 8v1m0 9v1m0 8v1m0 8v1m0 8v1m0 8v1m0 8v1m0 8v1m0 9v1m0 8v1m0 8v1m0 8v1m0 8v1m0 8v1m0 8v1m0 8v1m0 9v1m0 8v1m0 8v1m0 8v1m0 8v1m0 8v1m0 8v1m0 9v1m0 8v1m0 8v1m0 8v1m0 8v1m0 8v1m0 8v1m0 9v1m0 8v1m0 8v1m0 8v1m0 8v1m0 8v1m0 8v1m0 8v1m0 9v1m0 8v1m0 8v1m0 8v1m0 8v1m0 8v1m0 8v1m0 9v1m0 8v1m0 8v1m0 8v1m0 8v1m0 8v1m0 8v1m0 8v1m0 9v1m0 8v1m0 8v1m0 8v1m0 8v1m0 8v1m0 8v1m0 9v1m0 8v1m0 8v1m0 8v1m0 8v1m0 8v1M714.5 4v1m0 8v1m0 8v1m0 9v1m0 8v1m0 8v1m0 8v1m0 8v1m0 8v1m0 8v1m0 9v1m0 8v1m0 8v1m0 8v1m0 8v1m0 8v1m0 8v1m0 9v1m0 8v1m0 8v1m0 8v1m0 8v1m0 8v1m0 8v1m0 8v1m0 9v1m0 8v1m0 8v1m0 8v1m0 8v1m0 8v1m0 8v1m0 9v1m0 8v1m0 8v1m0 8v1m0 8v1m0 8v1m0 8v1m0 8v1m0 9v1m0 8v1m0 8v1m0 8v1m0 8v1m0 8v1m0 8v1m0 9v1m0 8v1m0 8v1m0 8v1m0 8v1m0 8v1m0 8v1m0 9v1m0 8v1m0 8v1m0 8v1m0 8v1m0 8v1m0 8v1m0 8v1m0 9v1m0 8v1m0 8v1m0 8v1m0 8v1m0 8v1m0 8v1m0 9v1m0 8v1m0 8v1m0 8v1m0 8v1m0 8v1m0 8v1m0 8v1m0 9v1m0 8v1m0 8v1m0 8v1m0 8v1m0 8v1m0 8v1m0 9v1m0 8v1m0 8v1m0 8v1m0 8v1m0 8v1M806.5 4v1m0 8v1m0 8v1m0 9v1m0 8v1m0 8v1m0 8v1m0 8v1m0 8v1m0 8v1m0 9v1m0 8v1m0 8v1m0 8v1m0 8v1m0 8v1m0 8v1m0 9v1m0 8v1m0 8v1m0 8v1m0 8v1m0 8v1m0 8v1m0 8v1m0 9v1m0 8v1m0 8v1m0 8v1m0 8v1m0 8v1m0 8v1m0 9v1m0 8v1m0 8v1m0 8v1m0 8v1m0 8v1m0 8v1m0 8v1m0 9v1m0 8v1m0 8v1m0 8v1m0 8v1m0 8v1m0 8v1m0 9v1m0 8v1m0 8v1m0 8v1m0 8v1m0 8v1m0 8v1m0 9v1m0 8v1m0 8v1m0 8v1m0 8v1m0 8v1m0 8v1m0 8v1m0 9v1m0 8v1m0 8v1m0 8v1m0 8v1m0 8v1m0 8v1m0 9v1m0 8v1m0 8v1m0 8v1m0 8v1m0 8v1m0 8v1m0 8v1m0 9v1m0 8v1m0 8v1m0 8v1m0 8v1m0 8v1m0 8v1m0 9v1m0 8v1m0 8v1m0 8v1m0 8v1m0 8v1M897.5 4v1m0 8v1m0 8v1m0 9v1m0 8v1m0 8v1m0 8v1m0 8v1m0 8v1m0 8v1m0 9v1m0 8v1m0 8v1m0 8v1m0 8v1m0 8v1m0 8v1m0 9v1m0 8v1m0 8v1m0 8v1m0 8v1m0 8v1m0 8v1m0 8v1m0 9v1m0 8v1m0 8v1m0 8v1m0 8v1m0 8v1m0 8v1m0 9v1m0 8v1m0 8v1m0 8v1m0 8v1m0 8v1m0 8v1m0 8v1m0 9v1m0 8v1m0 8v1m0 8v1m0 8v1m0 8v1m0 8v1m0 9v1m0 8v1m0 8v1m0 8v1m0 8v1m0 8v1m0 8v1m0 9v1m0 8v1m0 8v1m0 8v1m0 8v1m0 8v1m0 8v1m0 8v1m0 9v1m0 8v1m0 8v1m0 8v1m0 8v1m0 8v1m0 8v1m0 9v1m0 8v1m0 8v1m0 8v1m0 8v1m0 8v1m0 8v1m0 8v1m0 9v1m0 8v1m0 8v1m0 8v1m0 8v1m0 8v1m0 8v1m0 9v1m0 8v1m0 8v1m0 8v1m0 8v1m0 8v1M988.5 4v1m0 8v1m0 8v1m0 9v1m0 8v1m0 8v1m0 8v1m0 8v1m0 8v1m0 8v1m0 9v1m0 8v1m0 8v1m0 8v1m0 8v1m0 8v1m0 8v1m0 9v1m0 8v1m0 8v1m0 8v1m0 8v1m0 8v1m0 8v1m0 8v1m0 9v1m0 8v1m0 8v1m0 8v1m0 8v1m0 8v1m0 8v1m0 9v1m0 8v1m0 8v1m0 8v1m0 8v1m0 8v1m0 8v1m0 8v1m0 9v1m0 8v1m0 8v1m0 8v1m0 8v1m0 8v1m0 8v1m0 9v1m0 8v1m0 8v1m0 8v1m0 8v1m0 8v1m0 8v1m0 9v1m0 8v1m0 8v1m0 8v1m0 8v1m0 8v1m0 8v1m0 8v1m0 9v1m0 8v1m0 8v1m0 8v1m0 8v1m0 8v1m0 8v1m0 9v1m0 8v1m0 8v1m0 8v1m0 8v1m0 8v1m0 8v1m0 8v1m0 9v1m0 8v1m0 8v1m0 8v1m0 8v1m0 8v1m0 8v1m0 9v1m0 8v1m0 8v1m0 8v1m0 8v1m0 8v1M1080.5 4v1m0 8v1m0 8v1m0 9v1m0 8v1m0 8v1m0 8v1m0 8v1m0 8v1m0 8v1m0 9v1m0 8v1m0 8v1m0 8v1m0 8v1m0 8v1m0 8v1m0 9v1m0 8v1m0 8v1m0 8v1m0 8v1m0 8v1m0 8v1m0 8v1m0 9v1m0 8v1m0 8v1m0 8v1m0 8v1m0 8v1m0 8v1m0 9v1m0 8v1m0 8v1m0 8v1m0 8v1m0 8v1m0 8v1m0 8v1m0 9v1m0 8v1m0 8v1m0 8v1m0 8v1m0 8v1m0 8v1m0 9v1m0 8v1m0 8v1m0 8v1m0 8v1m0 8v1m0 8v1m0 9v1m0 8v1m0 8v1m0 8v1m0 8v1m0 8v1m0 8v1m0 8v1m0 9v1m0 8v1m0 8v1m0 8v1m0 8v1m0 8v1m0 8v1m0 9v1m0 8v1m0 8v1m0 8v1m0 8v1m0 8v1m0 8v1m0 8v1m0 9v1m0 8v1m0 8v1m0 8v1m0 8v1m0 8v1m0 8v1m0 9v1m0 8v1m0 8v1m0 8v1m0 8v1m0 8v1M1171.5 4v1m0 8v1m0 8v1m0 9v1m0 8v1m0 8v1m0 8v1m0 8v1m0 8v1m0 8v1m0 9v1m0 8v1m0 8v1m0 8v1m0 8v1m0 8v1m0 8v1m0 9v1m0 8v1m0 8v1m0 8v1m0 8v1m0 8v1m0 8v1m0 8v1m0 9v1m0 8v1m0 8v1m0 8v1m0 8v1m0 8v1m0 8v1m0 9v1m0 8v1m0 8v1m0 8v1m0 8v1m0 8v1m0 8v1m0 8v1m0 9v1m0 8v1m0 8v1m0 8v1m0 8v1m0 8v1m0 8v1m0 9v1m0 8v1m0 8v1m0 8v1m0 8v1m0 8v1m0 8v1m0 9v1m0 8v1m0 8v1m0 8v1m0 8v1m0 8v1m0 8v1m0 8v1m0 9v1m0 8v1m0 8v1m0 8v1m0 8v1m0 8v1m0 8v1m0 9v1m0 8v1m0 8v1m0 8v1m0 8v1m0 8v1m0 8v1m0 8v1m0 9v1m0 8v1m0 8v1m0 8v1m0 8v1m0 8v1m0 8v1m0 9v1m0 8v1m0 8v1m0 8v1m0 8v1m0 8v1M1262.5 4v1m0 8v1m0 8v1m0 9v1m0 8v1m0 8v1m0 8v1m0 8v1m0 8v1m0 8v1m0 9v1m0 8v1m0 8v1m0 8v1m0 8v1m0 8v1m0 8v1m0 9v1m0 8v1m0 8v1m0 8v1m0 8v1m0 8v1m0 8v1m0 8v1m0 9v1m0 8v1m0 8v1m0 8v1m0 8v1m0 8v1m0 8v1m0 9v1m0 8v1m0 8v1m0 8v1m0 8v1m0 8v1m0 8v1m0 8v1m0 9v1m0 8v1m0 8v1m0 8v1m0 8v1m0 8v1m0 8v1m0 9v1m0 8v1m0 8v1m0 8v1m0 8v1m0 8v1m0 8v1m0 9v1m0 8v1m0 8v1m0 8v1m0 8v1m0 8v1m0 8v1m0 8v1m0 9v1m0 8v1m0 8v1m0 8v1m0 8v1m0 8v1m0 8v1m0 9v1m0 8v1m0 8v1m0 8v1m0 8v1m0 8v1m0 8v1m0 8v1m0 9v1m0 8v1m0 8v1m0 8v1m0 8v1m0 8v1m0 8v1m0 9v1m0 8v1m0 8v1m0 8v1m0 8v1m0 8v1M1354.5 4v1m0 8v1m0 8v1m0 9v1m0 8v1m0 8v1m0 8v1m0 8v1m0 8v1m0 8v1m0 9v1m0 8v1m0 8v1m0 8v1m0 8v1m0 8v1m0 8v1m0 9v1m0 8v1m0 8v1m0 8v1m0 8v1m0 8v1m0 8v1m0 8v1m0 9v1m0 8v1m0 8v1m0 8v1m0 8v1m0 8v1m0 8v1m0 9v1m0 8v1m0 8v1m0 8v1m0 8v1m0 8v1m0 8v1m0 8v1m0 9v1m0 8v1m0 8v1m0 8v1m0 8v1m0 8v1m0 8v1m0 9v1m0 8v1m0 8v1m0 8v1m0 8v1m0 8v1m0 8v1m0 9v1m0 8v1m0 8v1m0 8v1m0 8v1m0 8v1m0 8v1m0 8v1m0 9v1m0 8v1m0 8v1m0 8v1m0 8v1m0 8v1m0 8v1m0 9v1m0 8v1m0 8v1m0 8v1m0 8v1m0 8v1m0 8v1m0 8v1m0 9v1m0 8v1m0 8v1m0 8v1m0 8v1m0 8v1m0 8v1m0 9v1m0 8v1m0 8v1m0 8v1m0 8v1m0 8v1" fill="none" stroke="#000" stroke-width="1" shape-rendering="crispEdges"/>
<!-- guides -->
<path d="M184.5 0V826M495.5 0V826M714.5 0V826M1294.5 0V826M1381.5 0V826M1418.5 0V826M0 77.5H1428M0 196.5H1428M0 762.5H1428M0 813.5H1428" fill="none" stroke="#a6a6a6" stroke-width="1" stroke-dasharray="3 3" stroke-dashoffset="1" shape-rendering="crispEdges"/>
<path d="M0 397.5H1428" fill="none" stroke="#f6a623" stroke-width="1" stroke-dasharray="3 3" stroke-dashoffset="1" shape-rendering="crispEdges"/>
<path d="M184.5 17v3M184.5 805v1M495.5 17v3M495.5 805v1M714.5 17v3M714.5 805v1M1294.5 17v3M1294.5 805v1M1381.5 17v3M1381.5 805v1M23 77.5h3M1409 77.5h2M23 196.5h3M1409 196.5h2M23 762.5h3M1409 762.5h2M1409 32.5h1M1409 123.5h1M1409 214.5h1M1409 306.5h1M1409 397.5h1M1409 488.5h1M1409 580.5h1M1409 671.5h1M1409 762.5h1M75.5 808v1M166.5 808v1M258.5 808v1M349.5 808v1M440.5 808v1M532.5 808v1M623.5 808v1M714.5 808v1M806.5 808v1M897.5 808v1M988.5 808v1M1080.5 808v1M1171.5 808v1M1262.5 808v1M1354.5 808v1" fill="none" stroke="#c2c2c2" stroke-width="1" shape-rendering="crispEdges"/>
<path d="M23 397.5h3M1409 397.5h2" fill="none" stroke="#f3c27a" stroke-width="1" shape-rendering="crispEdges"/>
</svg>
</body>
</html>
